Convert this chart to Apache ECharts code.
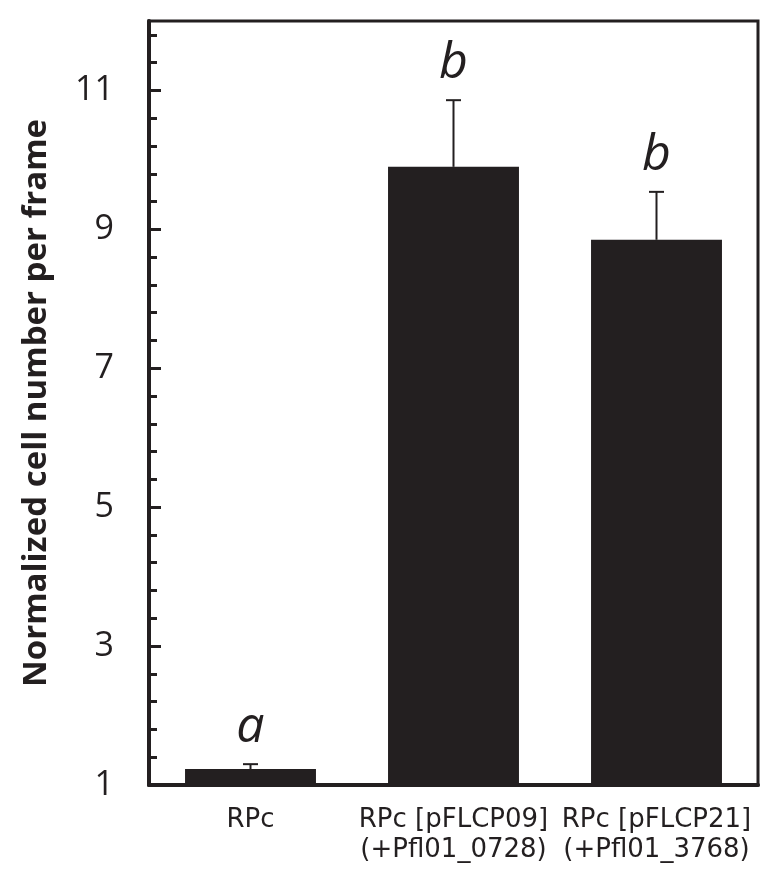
<!DOCTYPE html>
<html>
<head>
<meta charset="utf-8">
<script src="https://cdn.jsdelivr.net/npm/echarts@6/dist/echarts.min.js"></script>
<style>
  html, body { margin: 0; padding: 0; background: #fff; }
  #chart { width: 780px; height: 894px; }
</style>
</head>
<body>
<div id="chart"></div>
<script>
// data
const categories = ['RPc', 'RPc [pFLCP09]\n(+Pfl01_0728)', 'RPc [pFLCP21]\n(+Pfl01_3768)'];
const means = [1.23, 9.90, 8.85];
const errUpper = [1.30, 10.86, 9.54];
const letters = ['a', 'b', 'b'];

// y axis ticks
const yLabelValues = [1, 3, 5, 7, 9, 11];
const yMinorTicks = [1.4, 1.8, 2.2, 2.6, 3.4, 3.8, 4.2, 4.6, 5.4, 5.8, 6.2, 6.6,
    7.4, 7.8, 8.2, 8.6, 9.4, 9.8, 10.2, 10.6, 11.4, 11.8];

const ink = '#231f20';
const chart = echarts.init(document.getElementById('chart'));

// error bar + significance letter
function renderErr(params, api) {
    const i = api.value(0);
    const base = api.coord([i, api.value(1)]);
    const top = api.coord([i, api.value(2)]);
    const cap = 7.5;
    return {
        type: 'group',
        children: [
            { type: 'line', shape: { x1: base[0], y1: base[1], x2: top[0], y2: top[1] },
              style: { stroke: ink, lineWidth: 2 } },
            { type: 'line', shape: { x1: top[0] - cap, y1: top[1], x2: top[0] + cap, y2: top[1] },
              style: { stroke: ink, lineWidth: 2 } },
            { type: 'text', x: top[0], y: top[1] - 11,
              style: { text: letters[i], fill: ink, align: 'center', verticalAlign: 'bottom',
                       font: 'italic 50px "Open Sans", sans-serif' } }
        ]
    };
}

chart.setOption({
    animation: false,
    grid: { left: 149, right: 22, top: 21, bottom: 109, show: true,
            borderColor: ink, borderWidth: 3 },
    xAxis: {
        type: 'category',
        data: categories,
        axisLine: { lineStyle: { color: ink, width: 4 } },
        axisTick: { show: false },
        axisLabel: { interval: 0, color: ink, fontFamily: 'DejaVu Sans', fontSize: 26,
                     lineHeight: 30, margin: 20 }
    },
    yAxis: [{
        type: 'value',
        min: 1, max: 12,
        position: 'left',
        name: 'Normalized cell number per frame',
        nameLocation: 'middle',
        nameGap: 96,
        nameTextStyle: { color: ink, fontFamily: 'Open Sans', fontWeight: 'bold', fontSize: 33 },
        splitLine: { show: false },
        axisLine: { show: true, lineStyle: { color: ink, width: 4 } },
        axisTick: { show: true, inside: true, length: 12, customValues: yLabelValues,
                    lineStyle: { color: ink, width: 3 } },
        axisLabel: { customValues: yLabelValues, color: ink, fontFamily: 'Open Sans',
                     fontSize: 34, margin: 35 }
    }, {
        type: 'value',
        min: 1, max: 12,
        position: 'left',
        splitLine: { show: false },
        axisLine: { show: false },
        axisTick: { show: true, inside: true, length: 8, customValues: yMinorTicks,
                    lineStyle: { color: ink, width: 3 } },
        axisLabel: { show: false }
    }],
    series: [{
        type: 'bar',
        data: means,
        barWidth: '64.5%',
        itemStyle: { color: ink }
    }, {
        type: 'custom',
        renderItem: renderErr,
        data: means.map((m, i) => [i, m, errUpper[i]]),
        z: 5
    }]
});
</script>
</body>
</html>
